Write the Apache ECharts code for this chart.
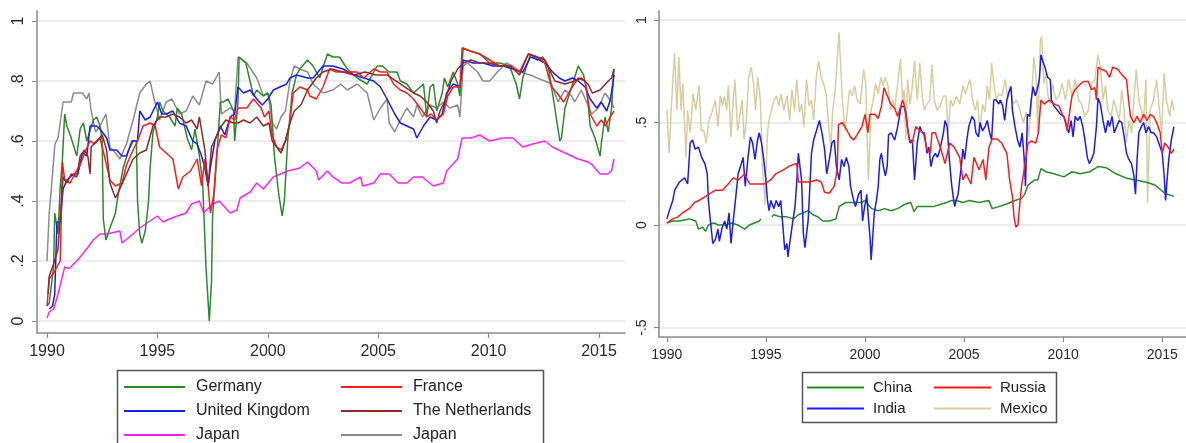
<!DOCTYPE html>
<html><head><meta charset="utf-8">
<script src="https://cdn.jsdelivr.net/npm/echarts@6/dist/echarts.min.js"></script>
<style>html,body{margin:0;padding:0;background:#fff}#c{width:1186px;height:443px}</style>
</head><body><div id="c"></div>
<script>
// ---- tick labels ----
const xTicks = [1990, 1995, 2000, 2005, 2010, 2015];
const leftYTicks = [0, 0.2, 0.4, 0.6, 0.8, 1];
const rightYTicks = [-0.5, 0, 0.5, 1];

// ---- left panel series [year, value] ----
const germany = [[1990.0,0.05],[1990.1,0.06],[1990.3,0.18],[1990.35,0.36],[1990.5,0.29],[1990.6,0.45],[1990.7,0.54],[1990.8,0.69],[1990.9,0.65],[1991.05,0.62],[1991.35,0.55],[1991.5,0.64],[1991.65,0.66],[1991.8,0.60],[1992.1,0.67],[1992.25,0.68],[1992.4,0.65],[1992.5,0.60],[1992.55,0.34],[1992.67,0.27],[1992.85,0.31],[1993.1,0.36],[1993.2,0.41],[1993.45,0.51],[1993.7,0.57],[1993.9,0.60],[1994.05,0.60],[1994.1,0.40],[1994.2,0.29],[1994.3,0.26],[1994.45,0.30],[1994.6,0.40],[1994.67,0.51],[1994.8,0.63],[1995.0,0.68],[1995.1,0.73],[1995.25,0.70],[1995.55,0.68],[1995.8,0.65],[1995.9,0.71],[1996.1,0.69],[1996.35,0.61],[1996.55,0.57],[1996.7,0.64],[1996.9,0.55],[1997.05,0.46],[1997.2,0.18],[1997.35,0.0],[1997.45,0.13],[1997.5,0.35],[1997.7,0.56],[1997.85,0.73],[1998.0,0.73],[1998.2,0.74],[1998.45,0.70],[1998.5,0.60],[1998.65,0.73],[1998.7,0.88],[1999.0,0.86],[1999.1,0.83],[1999.35,0.75],[1999.5,0.77],[1999.8,0.75],[2000.0,0.76],[2000.15,0.72],[2000.3,0.55],[2000.5,0.42],[2000.65,0.35],[2000.75,0.40],[2000.9,0.60],[2001.1,0.76],[2001.3,0.82],[2001.45,0.84],[2001.8,0.87],[2002.05,0.85],[2002.35,0.81],[2002.7,0.89],[2002.95,0.88],[2003.25,0.88],[2003.6,0.84],[2004.05,0.81],[2004.5,0.79],[2004.95,0.85],[2005.2,0.85],[2005.5,0.83],[2005.85,0.83],[2006.0,0.80],[2006.3,0.79],[2006.6,0.76],[2007.05,0.79],[2007.2,0.68],[2007.35,0.78],[2007.5,0.79],[2007.65,0.70],[2007.9,0.76],[2008.0,0.81],[2008.15,0.78],[2008.4,0.83],[2008.6,0.79],[2008.7,0.75],[2008.85,0.91],[2009.15,0.90],[2009.6,0.89],[2010.05,0.86],[2010.5,0.86],[2010.95,0.85],[2011.25,0.79],[2011.4,0.74],[2011.55,0.81],[2011.9,0.89],[2012.2,0.87],[2012.45,0.88],[2012.7,0.85],[2013.0,0.71],[2013.1,0.66],[2013.23,0.60],[2013.3,0.61],[2013.46,0.71],[2013.76,0.78],[2014.06,0.85],[2014.3,0.82],[2014.45,0.77],[2014.6,0.65],[2014.82,0.61],[2015.05,0.55],[2015.12,0.60],[2015.27,0.68],[2015.42,0.63],[2015.57,0.71],[2015.68,0.84]];
const france = [[1990.0,0.05],[1990.1,0.14],[1990.3,0.16],[1990.45,0.18],[1990.6,0.20],[1990.7,0.53],[1990.8,0.47],[1991.05,0.46],[1991.25,0.49],[1991.5,0.52],[1991.7,0.56],[1991.95,0.60],[1992.15,0.59],[1992.4,0.61],[1992.6,0.55],[1992.85,0.47],[1993.1,0.45],[1993.4,0.46],[1993.6,0.52],[1993.9,0.57],[1994.1,0.60],[1994.35,0.65],[1994.67,0.66],[1994.9,0.65],[1995.1,0.58],[1995.4,0.56],[1995.7,0.54],[1995.95,0.44],[1996.15,0.48],[1996.5,0.50],[1996.8,0.54],[1997.0,0.45],[1997.15,0.54],[1997.3,0.45],[1997.4,0.36],[1997.55,0.42],[1997.7,0.57],[1997.9,0.62],[1998.1,0.61],[1998.3,0.68],[1998.5,0.67],[1998.65,0.71],[1999.05,0.71],[1999.35,0.74],[1999.7,0.71],[1999.85,0.68],[2000.05,0.70],[2000.2,0.62],[2000.4,0.58],[2000.6,0.57],[2000.8,0.60],[2001.0,0.66],[2001.15,0.76],[2001.45,0.78],[2001.8,0.77],[2001.9,0.75],[2002.2,0.74],[2002.5,0.78],[2002.8,0.84],[2003.1,0.83],[2003.6,0.83],[2004.05,0.83],[2004.35,0.81],[2004.8,0.84],[2005.1,0.83],[2005.4,0.83],[2005.7,0.79],[2006.0,0.77],[2006.3,0.76],[2006.6,0.74],[2006.9,0.71],[2007.2,0.68],[2007.4,0.69],[2007.65,0.67],[2007.95,0.69],[2008.15,0.75],[2008.4,0.78],[2008.7,0.78],[2008.8,0.91],[2009.15,0.90],[2009.6,0.89],[2010.05,0.87],[2010.5,0.85],[2010.95,0.85],[2011.4,0.83],[2011.8,0.89],[2012.2,0.88],[2012.55,0.86],[2012.85,0.78],[2013.1,0.76],[2013.4,0.73],[2013.7,0.77],[2014.06,0.81],[2014.37,0.80],[2014.6,0.69],[2014.9,0.65],[2015.1,0.67],[2015.3,0.65],[2015.5,0.68],[2015.68,0.70]];
const uk = [[1990.1,0.04],[1990.25,0.05],[1990.35,0.09],[1990.45,0.33],[1990.6,0.33],[1990.73,0.44],[1990.9,0.47],[1991.2,0.49],[1991.4,0.49],[1991.6,0.56],[1991.8,0.55],[1991.95,0.65],[1992.25,0.65],[1992.4,0.64],[1992.7,0.61],[1992.85,0.57],[1993.15,0.57],[1993.4,0.55],[1993.6,0.55],[1993.85,0.60],[1994.1,0.60],[1994.2,0.70],[1994.45,0.67],[1994.67,0.68],[1995.0,0.73],[1995.2,0.69],[1995.4,0.69],[1995.7,0.70],[1996.0,0.66],[1996.3,0.65],[1996.6,0.60],[1996.8,0.59],[1997.0,0.55],[1997.15,0.51],[1997.3,0.45],[1997.4,0.51],[1997.6,0.60],[1997.85,0.65],[1998.05,0.62],[1998.3,0.68],[1998.5,0.69],[1998.65,0.78],[1998.9,0.76],[1999.2,0.77],[1999.5,0.74],[1999.75,0.72],[2000.0,0.74],[2000.25,0.77],[2000.55,0.78],[2000.85,0.79],[2001.0,0.81],[2001.3,0.82],[2001.8,0.81],[2002.05,0.81],[2002.5,0.85],[2002.95,0.85],[2003.4,0.84],[2003.9,0.82],[2004.35,0.81],[2004.8,0.80],[2005.1,0.78],[2005.4,0.74],[2005.75,0.69],[2006.0,0.66],[2006.3,0.65],[2006.6,0.64],[2006.75,0.61],[2007.05,0.65],[2007.35,0.68],[2007.65,0.67],[2007.9,0.69],[2008.1,0.76],[2008.4,0.79],[2008.7,0.78],[2008.85,0.87],[2009.3,0.86],[2009.75,0.86],[2010.2,0.85],[2010.65,0.85],[2011.1,0.84],[2011.55,0.83],[2011.9,0.88],[2012.3,0.87],[2012.55,0.86],[2012.9,0.83],[2013.2,0.81],[2013.46,0.80],[2013.8,0.81],[2014.06,0.80],[2014.37,0.78],[2014.6,0.74],[2014.9,0.71],[2015.1,0.73],[2015.35,0.70],[2015.52,0.74],[2015.68,0.82]];
const netherlands = [[1990.05,0.09],[1990.1,0.15],[1990.3,0.19],[1990.5,0.24],[1990.6,0.35],[1990.73,0.48],[1990.9,0.46],[1991.1,0.49],[1991.35,0.48],[1991.5,0.55],[1991.7,0.57],[1991.85,0.55],[1991.95,0.49],[1992.0,0.58],[1992.25,0.60],[1992.5,0.62],[1992.7,0.57],[1992.85,0.46],[1993.1,0.41],[1993.3,0.44],[1993.6,0.49],[1993.9,0.54],[1994.2,0.56],[1994.5,0.57],[1994.8,0.65],[1995.1,0.68],[1995.4,0.68],[1995.7,0.69],[1996.0,0.68],[1996.3,0.66],[1996.55,0.67],[1996.8,0.64],[1996.9,0.68],[1997.15,0.57],[1997.3,0.45],[1997.45,0.58],[1997.7,0.62],[1997.9,0.65],[1998.1,0.67],[1998.45,0.66],[1998.65,0.66],[1998.9,0.67],[1999.2,0.66],[1999.5,0.68],[1999.8,0.65],[2000.05,0.66],[2000.2,0.60],[2000.4,0.58],[2000.6,0.56],[2000.8,0.60],[2001.0,0.66],[2001.2,0.70],[2001.5,0.72],[2001.8,0.77],[2002.2,0.81],[2002.5,0.83],[2002.9,0.84],[2003.4,0.83],[2003.9,0.82],[2004.4,0.83],[2004.9,0.82],[2005.4,0.82],[2005.8,0.80],[2006.2,0.78],[2006.6,0.76],[2006.9,0.75],[2007.2,0.73],[2007.5,0.70],[2007.65,0.66],[2007.8,0.70],[2008.0,0.73],[2008.3,0.80],[2008.6,0.84],[2008.85,0.86],[2009.2,0.87],[2009.6,0.86],[2010.0,0.86],[2010.5,0.85],[2011.0,0.85],[2011.4,0.82],[2011.8,0.89],[2012.2,0.88],[2012.55,0.87],[2013.0,0.80],[2013.46,0.79],[2013.9,0.80],[2014.2,0.81],[2014.5,0.79],[2014.7,0.76],[2015.05,0.77],[2015.42,0.80],[2015.57,0.81],[2015.68,0.84]];
const japanPink = [[1990.0,0.01],[1990.1,0.03],[1990.3,0.04],[1990.5,0.09],[1990.7,0.15],[1990.8,0.18],[1991.0,0.175],[1991.35,0.20],[1991.8,0.24],[1992.1,0.27],[1992.4,0.29],[1992.7,0.29],[1993.3,0.30],[1993.4,0.26],[1993.9,0.29],[1994.2,0.31],[1994.4,0.32],[1994.8,0.34],[1995.0,0.35],[1995.25,0.33],[1995.55,0.34],[1995.9,0.35],[1996.3,0.36],[1996.55,0.39],[1996.9,0.40],[1997.1,0.36],[1997.5,0.39],[1997.8,0.40],[1998.3,0.36],[1998.6,0.37],[1998.75,0.41],[1999.2,0.43],[1999.5,0.46],[1999.8,0.44],[2000.25,0.48],[2000.9,0.50],[2001.45,0.51],[2001.8,0.53],[2002.2,0.50],[2002.3,0.47],[2002.7,0.50],[2002.95,0.48],[2003.35,0.46],[2003.7,0.46],[2004.2,0.48],[2004.3,0.45],[2004.8,0.46],[2005.1,0.49],[2005.5,0.49],[2005.9,0.46],[2006.3,0.46],[2006.6,0.48],[2007.0,0.48],[2007.5,0.45],[2007.95,0.46],[2008.1,0.50],[2008.6,0.54],[2008.8,0.61],[2009.2,0.61],[2009.6,0.62],[2010.05,0.60],[2010.65,0.61],[2011.1,0.61],[2011.55,0.58],[2012.0,0.59],[2012.55,0.60],[2012.9,0.58],[2013.46,0.56],[2014.06,0.54],[2014.5,0.53],[2014.7,0.52],[2015.05,0.49],[2015.4,0.49],[2015.57,0.50],[2015.68,0.54]];
const japanGray = [[1990.0,0.20],[1990.1,0.36],[1990.15,0.40],[1990.36,0.59],[1990.5,0.61],[1990.73,0.73],[1991.1,0.73],[1991.2,0.76],[1991.6,0.76],[1991.8,0.74],[1991.9,0.76],[1992.0,0.70],[1992.2,0.63],[1992.4,0.65],[1992.67,0.69],[1992.85,0.58],[1993.1,0.56],[1993.3,0.54],[1993.6,0.59],[1993.9,0.67],[1994.2,0.76],[1994.5,0.79],[1994.67,0.80],[1994.85,0.74],[1995.1,0.67],[1995.4,0.73],[1995.65,0.74],[1996.0,0.69],[1996.3,0.70],[1996.6,0.75],[1996.9,0.72],[1997.2,0.80],[1997.5,0.79],[1997.8,0.83],[1997.9,0.69],[1998.3,0.71],[1998.5,0.70],[1998.65,0.88],[1999.05,0.86],[1999.5,0.81],[1999.8,0.75],[2000.0,0.76],[2000.2,0.66],[2000.4,0.64],[2000.6,0.68],[2000.8,0.70],[2001.0,0.80],[2001.2,0.85],[2001.45,0.84],[2001.8,0.83],[2002.05,0.79],[2002.5,0.76],[2002.95,0.77],[2003.3,0.79],[2003.6,0.77],[2004.05,0.79],[2004.5,0.76],[2004.8,0.67],[2005.1,0.71],[2005.4,0.74],[2005.5,0.66],[2005.75,0.63],[2006.0,0.67],[2006.3,0.71],[2006.6,0.68],[2006.75,0.72],[2007.0,0.68],[2007.35,0.72],[2007.65,0.71],[2007.95,0.73],[2008.25,0.71],[2008.6,0.72],[2008.7,0.68],[2008.85,0.85],[2009.05,0.86],[2009.5,0.83],[2009.75,0.80],[2010.05,0.80],[2010.4,0.83],[2010.8,0.86],[2011.1,0.85],[2011.4,0.83],[2011.9,0.82],[2012.2,0.81],[2012.55,0.80],[2012.85,0.79],[2013.15,0.73],[2013.46,0.77],[2013.76,0.75],[2013.9,0.73],[2014.2,0.77],[2014.67,0.69],[2014.97,0.71],[2015.27,0.76],[2015.57,0.73],[2015.68,0.71]];

// ---- right panel series [year, value] ----
const china = [[1990.0,0.01],[1990.3,0.02],[1990.64,0.02],[1991.13,0.03],[1991.46,0.02],[1991.6,-0.02],[1991.8,-0.01],[1991.96,-0.03],[1992.1,0.0],[1992.37,0.01],[1992.6,0.0],[1992.95,0.0],[1993.27,0.01],[1993.6,0.0],[1993.93,-0.02],[1994.17,0.0],[1994.42,0.01],[1994.67,0.02],[1994.75,0.03],[1995.0,null],[1995.3,0.04],[1995.4,0.05],[1995.73,0.04],[1996.06,0.04],[1996.4,0.03],[1996.64,0.05],[1996.89,0.06],[1997.13,0.07],[1997.38,0.05],[1997.63,0.04],[1997.87,0.02],[1998.2,0.02],[1998.53,0.03],[1998.7,0.09],[1999.02,0.11],[1999.5,0.11],[1999.84,0.11],[2000.0,0.12],[2000.34,0.08],[2000.67,0.07],[2001.0,0.08],[2001.32,0.07],[2001.65,0.08],[2001.98,0.10],[2002.31,0.11],[2002.48,0.065],[2002.64,0.09],[2002.97,0.09],[2003.46,0.09],[2003.79,0.10],[2004.12,0.11],[2004.37,0.12],[2004.61,0.12],[2004.94,0.11],[2005.27,0.12],[2005.76,0.11],[2006.25,0.12],[2006.42,0.08],[2006.75,0.09],[2007.08,0.10],[2007.33,0.11],[2007.57,0.12],[2007.9,0.13],[2008.06,0.15],[2008.23,0.195],[2008.56,0.22],[2008.72,0.22],[2008.88,0.275],[2009.13,0.26],[2009.54,0.25],[2010.04,0.235],[2010.45,0.26],[2010.86,0.25],[2011.35,0.26],[2011.76,0.285],[2012.17,0.28],[2012.67,0.25],[2013.16,0.23],[2013.65,0.22],[2014.15,0.21],[2014.64,0.195],[2015.13,0.155],[2015.59,0.14]];
const russia = [[1990.0,0.01],[1990.3,0.03],[1990.56,0.04],[1990.8,0.06],[1991.13,0.08],[1991.4,0.11],[1991.63,0.12],[1991.96,0.14],[1992.45,0.17],[1992.8,0.17],[1993.1,0.20],[1993.35,0.23],[1993.6,0.22],[1993.93,0.25],[1994.18,0.20],[1994.6,0.20],[1994.9,0.20],[1995.24,0.22],[1995.5,0.25],[1995.9,0.27],[1996.23,0.29],[1996.56,0.30],[1996.64,0.21],[1996.9,0.21],[1997.2,0.21],[1997.55,0.22],[1997.8,0.21],[1997.96,0.16],[1998.2,0.155],[1998.45,0.19],[1998.6,0.27],[1998.66,0.49],[1998.86,0.50],[1999.1,0.46],[1999.27,0.43],[1999.43,0.415],[1999.6,0.44],[1999.85,0.48],[2000.0,0.54],[2000.15,0.45],[2000.25,0.54],[2000.5,0.54],[2000.67,0.52],[2000.83,0.58],[2000.96,0.67],[2001.13,0.63],[2001.3,0.59],[2001.5,0.57],[2001.65,0.53],[2001.9,0.61],[2002.0,0.58],[2002.23,0.42],[2002.39,0.40],[2002.56,0.48],[2002.8,0.46],[2002.95,0.45],[2003.13,0.37],[2003.3,0.35],[2003.38,0.45],[2003.55,0.45],[2003.8,0.38],[2004.04,0.30],[2004.28,0.40],[2004.5,0.38],[2004.78,0.33],[2004.94,0.22],[2005.1,0.25],[2005.35,0.20],[2005.5,0.33],[2005.76,0.27],[2005.96,0.32],[2006.1,0.22],[2006.26,0.38],[2006.42,0.42],[2006.67,0.42],[2006.9,0.40],[2007.16,0.35],[2007.3,0.22],[2007.44,0.14],[2007.52,0.04],[2007.62,-0.01],[2007.72,0.0],[2007.8,0.09],[2007.9,0.19],[2008.0,0.25],[2008.23,0.40],[2008.4,0.41],[2008.62,0.40],[2008.75,0.45],[2008.88,0.61],[2009.05,0.59],[2009.3,0.61],[2009.55,0.59],[2009.79,0.58],[2009.96,0.54],[2010.12,0.51],[2010.2,0.46],[2010.37,0.58],[2010.45,0.63],[2010.6,0.66],[2010.78,0.68],[2011.02,0.70],[2011.27,0.70],[2011.43,0.66],[2011.6,0.67],[2011.68,0.61],[2011.76,0.77],[2011.93,0.76],[2012.17,0.75],[2012.34,0.72],[2012.5,0.77],[2012.75,0.76],[2013.0,0.73],[2013.2,0.71],[2013.3,0.61],[2013.4,0.53],[2013.57,0.50],[2013.73,0.53],[2013.9,0.50],[2014.06,0.54],[2014.23,0.51],[2014.4,0.54],[2014.56,0.53],[2014.72,0.50],[2014.9,0.45],[2015.0,0.35],[2015.13,0.40],[2015.3,0.38],[2015.46,0.35],[2015.59,0.37]];
const india = [[1990.0,0.03],[1990.16,0.08],[1990.3,0.12],[1990.4,0.17],[1990.64,0.21],[1990.9,0.23],[1991.05,0.20],[1991.18,0.40],[1991.3,0.415],[1991.43,0.37],[1991.6,0.38],[1991.76,0.33],[1991.92,0.30],[1992.04,0.25],[1992.1,0.12],[1992.2,0.02],[1992.32,-0.09],[1992.45,-0.07],[1992.58,-0.02],[1992.65,-0.08],[1992.8,-0.01],[1992.92,0.02],[1993.03,-0.02],[1993.14,0.06],[1993.24,-0.09],[1993.35,0.02],[1993.43,0.09],[1993.6,0.25],[1993.73,0.29],[1993.85,0.33],[1993.96,0.19],[1994.1,0.33],[1994.22,0.43],[1994.33,0.40],[1994.45,0.32],[1994.58,0.415],[1994.66,0.45],[1994.78,0.40],[1994.88,0.33],[1995.0,0.22],[1995.08,0.12],[1995.16,0.07],[1995.25,0.12],[1995.4,0.08],[1995.52,0.12],[1995.65,0.09],[1995.75,0.12],[1995.87,-0.02],[1995.95,-0.12],[1996.06,-0.09],[1996.11,-0.155],[1996.23,-0.07],[1996.36,0.02],[1996.47,0.09],[1996.55,0.2],[1996.64,0.35],[1996.72,0.285],[1996.8,0.22],[1996.89,-0.04],[1996.97,-0.11],[1997.05,-0.11],[1997.13,0.02],[1997.2,0.15],[1997.3,0.35],[1997.41,0.415],[1997.55,0.46],[1997.7,0.51],[1997.83,0.45],[1997.96,0.37],[1998.07,0.25],[1998.2,0.32],[1998.33,0.40],[1998.45,0.415],[1998.56,0.285],[1998.7,0.22],[1998.82,0.32],[1998.94,0.285],[1999.06,0.33],[1999.19,0.285],[1999.27,0.19],[1999.38,0.14],[1999.43,0.12],[1999.52,0.09],[1999.6,0.12],[1999.68,0.15],[1999.8,0.17],[1999.88,0.02],[1999.98,0.09],[2000.05,0.12],[2000.09,0.15],[2000.17,0.04],[2000.26,-0.07],[2000.31,-0.17],[2000.37,-0.09],[2000.47,0.06],[2000.58,0.12],[2000.67,0.19],[2000.75,0.32],[2000.83,0.35],[2000.93,0.285],[2001.03,0.24],[2001.12,0.285],[2001.19,0.44],[2001.32,0.45],[2001.5,0.415],[2001.65,0.48],[2001.82,0.577],[2001.96,0.58],[2002.06,0.55],[2002.18,0.45],[2002.28,0.40],[2002.39,0.415],[2002.5,0.22],[2002.64,0.40],[2002.77,0.48],[2002.89,0.45],[2003.0,0.45],[2003.13,0.35],[2003.22,0.38],[2003.33,0.285],[2003.43,0.33],[2003.55,0.35],[2003.66,0.33],[2003.79,0.37],[2003.96,0.45],[2004.04,0.51],[2004.15,0.48],[2004.25,0.33],[2004.37,0.20],[2004.45,0.14],[2004.53,0.09],[2004.6,0.12],[2004.7,0.15],[2004.78,0.22],[2004.86,0.285],[2004.94,0.37],[2005.03,0.32],[2005.14,0.415],[2005.24,0.48],[2005.3,0.50],[2005.4,0.53],[2005.52,0.51],[2005.6,0.45],[2005.73,0.43],[2005.8,0.50],[2005.93,0.46],[2006.06,0.48],[2006.17,0.51],[2006.29,0.45],[2006.39,0.415],[2006.5,0.61],[2006.62,0.61],[2006.75,0.59],[2006.83,0.61],[2006.95,0.58],[2007.05,0.51],[2007.16,0.61],[2007.27,0.65],[2007.37,0.675],[2007.44,0.56],[2007.57,0.48],[2007.7,0.415],[2007.82,0.38],[2007.93,0.45],[2008.03,0.33],[2008.1,0.19],[2008.2,0.54],[2008.31,0.53],[2008.39,0.61],[2008.48,0.675],[2008.59,0.63],[2008.69,0.66],[2008.8,0.71],[2008.88,0.83],[2008.97,0.80],[2009.08,0.77],[2009.22,0.72],[2009.35,0.71],[2009.41,0.61],[2009.54,0.58],[2009.71,0.56],[2009.87,0.54],[2010.04,0.53],[2010.17,0.48],[2010.28,0.45],[2010.4,0.51],[2010.5,0.43],[2010.61,0.53],[2010.73,0.51],[2010.86,0.53],[2010.99,0.48],[2011.1,0.415],[2011.22,0.33],[2011.32,0.30],[2011.43,0.32],[2011.55,0.35],[2011.68,0.48],[2011.76,0.62],[2011.88,0.59],[2012.01,0.51],[2012.14,0.45],[2012.26,0.51],[2012.34,0.48],[2012.47,0.53],[2012.58,0.45],[2012.7,0.48],[2012.83,0.51],[2012.96,0.50],[2013.08,0.43],[2013.2,0.35],[2013.32,0.32],[2013.45,0.30],[2013.57,0.24],[2013.65,0.15],[2013.73,0.32],[2013.82,0.45],[2013.95,0.48],[2014.06,0.50],[2014.18,0.45],[2014.31,0.48],[2014.44,0.45],[2014.56,0.45],[2014.72,0.43],[2014.9,0.38],[2015.0,0.35],[2015.1,0.24],[2015.17,0.12],[2015.22,0.19],[2015.33,0.32],[2015.46,0.415],[2015.59,0.48]];
const mexico = [[1990.0,0.56],[1990.12,0.35],[1990.23,0.58],[1990.39,0.84],[1990.51,0.56],[1990.61,0.82],[1990.72,0.56],[1990.81,0.69],[1990.97,0.33],[1991.05,0.56],[1991.18,0.45],[1991.33,0.64],[1991.46,0.56],[1991.63,0.68],[1991.74,0.46],[1991.87,0.46],[1991.99,0.40],[1992.12,0.51],[1992.28,0.55],[1992.45,0.61],[1992.58,0.48],[1992.7,0.63],[1992.81,0.58],[1992.91,0.63],[1993.02,0.56],[1993.11,0.68],[1993.24,0.43],[1993.35,0.61],[1993.44,0.71],[1993.57,0.46],[1993.68,0.53],[1993.8,0.61],[1993.9,0.42],[1994.01,0.51],[1994.13,0.72],[1994.26,0.77],[1994.39,0.68],[1994.47,0.56],[1994.59,0.72],[1994.72,0.61],[1994.83,0.29],[1994.95,0.10],[1995.08,0.45],[1995.16,0.51],[1995.28,0.56],[1995.41,0.61],[1995.54,0.63],[1995.65,0.58],[1995.77,0.64],[1995.9,0.56],[1996.07,0.63],[1996.2,0.51],[1996.31,0.66],[1996.44,0.56],[1996.56,0.71],[1996.69,0.55],[1996.8,0.59],[1996.92,0.48],[1997.05,0.71],[1997.18,0.58],[1997.3,0.61],[1997.41,0.51],[1997.54,0.72],[1997.66,0.80],[1997.79,0.72],[1997.91,0.69],[1998.04,0.64],[1998.17,0.48],[1998.28,0.38],[1998.37,0.56],[1998.5,0.66],[1998.61,0.82],[1998.69,0.94],[1998.78,0.77],[1998.86,0.61],[1998.99,0.46],[1999.11,0.56],[1999.22,0.66],[1999.35,0.63],[1999.48,0.68],[1999.6,0.61],[1999.76,0.59],[1999.93,0.76],[2000.04,0.69],[2000.17,0.22],[2000.31,0.56],[2000.42,0.61],[2000.54,0.69],[2000.67,0.64],[2000.8,0.72],[2000.91,0.68],[2001.03,0.72],[2001.16,0.68],[2001.29,0.56],[2001.41,0.61],[2001.49,0.56],[2001.65,0.69],[2001.79,0.81],[2001.9,0.61],[2001.98,0.66],[2002.06,0.42],[2002.15,0.71],[2002.28,0.59],[2002.39,0.68],[2002.51,0.80],[2002.64,0.61],[2002.77,0.79],[2002.89,0.63],[2003.0,0.56],[2003.13,0.59],[2003.27,0.61],[2003.38,0.78],[2003.5,0.61],[2003.63,0.56],[2003.79,0.58],[2003.96,0.63],[2004.09,0.63],[2004.2,0.45],[2004.32,0.61],[2004.45,0.58],[2004.61,0.63],[2004.78,0.59],[2004.94,0.68],[2005.07,0.64],[2005.19,0.68],[2005.3,0.71],[2005.43,0.61],[2005.57,0.56],[2005.68,0.61],[2005.8,0.45],[2005.93,0.59],[2006.06,0.55],[2006.17,0.68],[2006.29,0.61],[2006.39,0.79],[2006.5,0.69],[2006.62,0.61],[2006.75,0.64],[2006.91,0.63],[2007.08,0.71],[2007.21,0.61],[2007.32,0.68],[2007.49,0.59],[2007.65,0.61],[2007.82,0.56],[2007.98,0.50],[2008.15,0.55],[2008.26,0.43],[2008.39,0.59],[2008.52,0.82],[2008.64,0.72],[2008.72,0.45],[2008.85,0.90],[2008.92,0.92],[2009.02,0.69],[2009.13,0.74],[2009.22,0.64],[2009.35,0.59],[2009.46,0.69],[2009.63,0.61],[2009.79,0.63],[2009.95,0.69],[2010.12,0.61],[2010.28,0.71],[2010.45,0.63],[2010.61,0.71],[2010.78,0.61],[2010.94,0.59],[2011.1,0.53],[2011.27,0.56],[2011.43,0.69],[2011.6,0.71],[2011.76,0.83],[2011.88,0.77],[2012.01,0.61],[2012.14,0.68],[2012.26,0.56],[2012.42,0.53],[2012.55,0.61],[2012.7,0.56],[2012.83,0.51],[2012.96,0.66],[2013.08,0.56],[2013.19,0.40],[2013.32,0.51],[2013.46,0.45],[2013.57,0.61],[2013.69,0.76],[2013.82,0.61],[2013.95,0.56],[2014.06,0.51],[2014.18,0.71],[2014.26,0.11],[2014.39,0.56],[2014.56,0.61],[2014.72,0.71],[2014.84,0.58],[2014.97,0.45],[2015.1,0.74],[2015.21,0.61],[2015.38,0.53],[2015.49,0.61],[2015.59,0.56]];

const FONT = '"Liberation Sans", Arial, sans-serif';
const fmt = v => (v === 0 ? '0' : String(v).replace('0.', '.'));

function mk(name, data, color, idx, z) {
  return { type: 'line', name, data, xAxisIndex: idx, yAxisIndex: idx, showSymbol: false, symbol: 'none',
    lineStyle: { color, width: 1.5 }, itemStyle: { color }, z, animation: false, connectNulls: false };
}
function xAx(idx, min, max, fs) {
  return { type: 'value', gridIndex: idx, min, max,
    axisLine: { show: true, onZero: false, lineStyle: { color: '#8a8a8a', width: 1.5 } },
    axisTick: { show: true, length: 5, customValues: xTicks, lineStyle: { color: '#8a8a8a', width: 1.2 } },
    axisLabel: { customValues: xTicks, formatter: v => String(v), fontFamily: FONT, fontSize: fs, color: '#2a2a2a', margin: 11 },
    splitLine: { show: false } };
}
function yAx(idx, min, max, ticks, fs, margin) {
  return { type: 'value', gridIndex: idx, min, max,
    axisLine: { show: true, onZero: false, lineStyle: { color: '#8a8a8a', width: 1.5 } },
    axisTick: { show: true, length: 5, customValues: ticks, lineStyle: { color: '#8a8a8a', width: 1.2 } },
    axisLabel: { customValues: ticks, formatter: fmt, rotate: 90, fontFamily: FONT, fontSize: fs, color: '#2a2a2a', margin },
    splitLine: { show: true, lineStyle: { color: '#e6e6e6', width: 1.5 } } };
}
function leg(left, top, names, iw, fs, gap, pad) {
  return { left, top, orient: 'vertical', padding: 0, itemGap: gap, itemWidth: iw, itemHeight: 2, icon: 'rect',
    selectedMode: false, textStyle: { fontFamily: FONT, fontSize: fs, color: '#222', padding: [0, 0, 0, pad] }, data: names };
}

const chart = echarts.init(document.getElementById('c'), null, { renderer: 'canvas' });
chart.setOption({
  animation: false,
  backgroundColor: '#ffffff',
  grid: [
    { left: 37, top: 11, width: 588, height: 322 },
    { left: 659, top: 11, width: 539, height: 326 }
  ],
  xAxis: [xAx(0, 1989.547, 2016.178, 16), xAx(1, 1989.606, 2016.2, 14)],
  yAxis: [yAx(0, -0.04, 1.0333, leftYTicks, 16, 10), yAx(1, -0.546, 1.044, rightYTicks, 14, 10)],
  legend: [
    leg(124, 379, ['Germany', 'United Kingdom', 'Japan'], 61, 16, 8, 6),
    leg(341, 379, ['France', 'The Netherlands', 'Japan '], 61, 16, 8, 6),
    leg(807, 380, ['China', 'India'], 57, 15, 6, 4),
    leg(934, 380, ['Russia', 'Mexico'], 57, 15, 6, 4)
  ],
  graphic: [
    { type: 'rect', silent: true, shape: { x: 117.5, y: 370.5, width: 426, height: 80 },
      style: { fill: 'none', stroke: '#555', lineWidth: 1.5 } },
    { type: 'rect', silent: true, shape: { x: 802.5, y: 372.5, width: 254, height: 50 },
      style: { fill: 'none', stroke: '#555', lineWidth: 1.5 } }
  ],
  series: [
    mk('Japan ', japanGray, '#8c8c8c', 0, 2),
    mk('Japan', japanPink, '#ff22ff', 0, 3),
    mk('Germany', germany, '#2a8a2a', 0, 4),
    mk('United Kingdom', uk, '#1a1aff', 0, 5),
    mk('France', france, '#ff1a1a', 0, 6),
    mk('The Netherlands', netherlands, '#8e2a2a', 0, 7),
    mk('Mexico', mexico, '#d6cea0', 1, 2),
    mk('China', china, '#2a8a2a', 1, 3),
    mk('India', india, '#1a1aff', 1, 4),
    mk('Russia', russia, '#ff1a1a', 1, 5)
  ]
});
</script></body></html>
